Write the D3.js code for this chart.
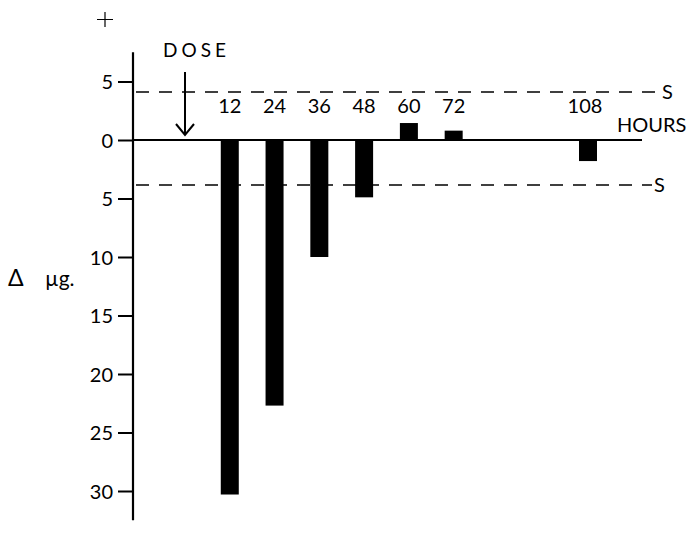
<!DOCTYPE html>
<html>
<head>
<meta charset="utf-8">
<script src="https://cdn.jsdelivr.net/npm/d3@7"></script>
<style>
  body { margin: 0; background: white; }
  text { font-family: Lato, "Open Sans", sans-serif; fill: #000; }
</style>
</head>
<body>
<div id="chart"></div>
<script>
// hours after dose and change in micrograms (negative = downward bars)
let hours = [12, 24, 36, 48, 60, 72, 108];
let deltas = [-30.3, -22.7, -10, -4.9, 1.45, 0.8, -1.8];
let yTicks = [5, 0, -5, -10, -15, -20, -25, -30];
let sigLimits = [4.1, -3.85];

let width = 689;
let height = 537;

let svg = d3.select("#chart")
			.append("svg")
			.attr("width", width)
			.attr("height", height);

svg.append("rect")
	.attr("width", width)
	.attr("height", height)
	.attr("fill", "white");

let xScale = d3.scaleLinear()
				.domain([0, 108])
				.range([185, 588]);

let yScale = d3.scaleLinear()
				.domain([5, -30])
				.range([81.5, 491]);

let axisX = 133;

// y axis
let yAxis = d3.axisLeft(yScale)
				.tickValues(yTicks)
				.tickSize(15)
				.tickPadding(5)
				.tickFormat(d => Math.abs(d));

let gy = svg.append("g")
	.attr("transform", `translate(${axisX},0)`)
	.call(yAxis);

gy.select(".domain").remove();
gy.selectAll(".tick line").attr("stroke", "#000").attr("stroke-width", 2);
gy.selectAll(".tick text")
	.attr("dy", "0.36em")
	.style("font-size", "20px")
	.style("font-family", "Lato, 'Open Sans', sans-serif");

gy.append("line")
	.attr("x1", 0).attr("x2", 0)
	.attr("y1", yScale(7.5)).attr("y2", yScale(-32.5))
	.attr("stroke", "#000")
	.attr("stroke-width", 2.2);

// zero baseline (hours axis)
svg.append("line")
	.attr("x1", axisX).attr("x2", 642)
	.attr("y1", yScale(0)).attr("y2", yScale(0))
	.attr("stroke", "#000")
	.attr("stroke-width", 2);

svg.append("text")
	.attr("x", 617)
	.attr("y", 132)
	.style("font-size", "20px")
	.text("HOURS");

// significance limits
let sEnd = [660, 652];
sigLimits.forEach((v, i) => {
	svg.append("line")
		.attr("x1", 136).attr("x2", sEnd[i])
		.attr("y1", yScale(v)).attr("y2", yScale(v))
		.attr("stroke", "#000")
		.attr("stroke-width", 1.5)
		.attr("stroke-dasharray", "13,10");
	svg.append("text")
		.attr("x", sEnd[i] + 2)
		.attr("y", yScale(v) + 7)
		.style("font-size", "20px")
		.text("S");
});

// bars
let barW = 18;
svg.selectAll("rect.bar")
	.data(hours)
	.enter()
	.append("rect")
	.attr("class", "bar")
	.attr("x", d => xScale(d) - barW / 2)
	.attr("width", barW)
	.attr("y", (d, i) => yScale(Math.max(0, deltas[i])))
	.attr("height", (d, i) => Math.abs(yScale(deltas[i]) - yScale(0)))
	.attr("fill", "#000");

// hour labels
svg.selectAll("text.hour")
	.data(hours)
	.enter()
	.append("text")
	.attr("class", "hour")
	.attr("x", d => xScale(d) - (d > 100 ? 3 : 0))
	.attr("y", 113)
	.attr("text-anchor", "middle")
	.style("font-size", "20px")
	.text(d => d);

// dose arrow
let doseX = xScale(0);
svg.append("text")
	.attr("x", 163)
	.attr("y", 57)
	.style("font-size", "19px")
	.style("letter-spacing", "4px")
	.text("DOSE");

svg.append("line")
	.attr("x1", doseX).attr("x2", doseX)
	.attr("y1", 72).attr("y2", 134)
	.attr("stroke", "#000")
	.attr("stroke-width", 2);

svg.append("path")
	.attr("d", `M${doseX - 9},${124} L${doseX},${135} L${doseX + 9},${124}`)
	.attr("fill", "none")
	.attr("stroke", "#000")
	.attr("stroke-width", 2);

// plus sign at top
svg.append("path")
	.attr("d", "M97,19.5 H113 M105,12 V27")
	.attr("stroke", "#000")
	.attr("stroke-width", 1.2);

// y label
svg.append("text")
	.attr("x", 8)
	.attr("y", 286)
	.style("font-size", "23px")
	.text("\u0394");

svg.append("text")
	.attr("x", 45)
	.attr("y", 286)
	.style("font-size", "21px")
	.text("\u00b5g.");
</script>
</body>
</html>
